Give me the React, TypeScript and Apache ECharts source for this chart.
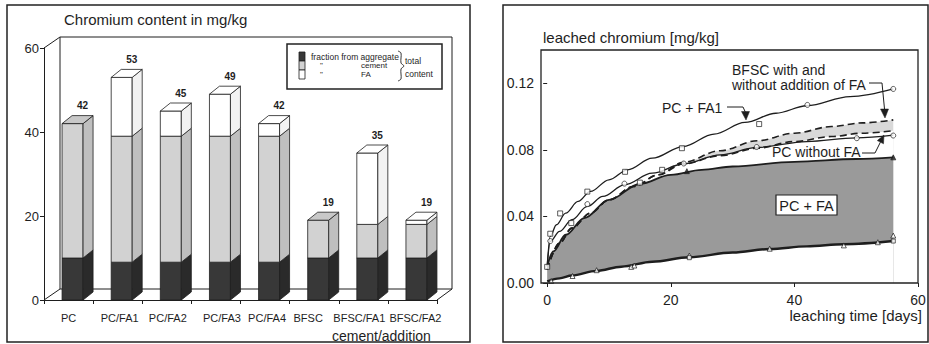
import React, { useEffect, useRef } from 'react';
import * as echarts from 'echarts';

// ---------- Left chart data ----------
const categories = ['PC', 'PC/FA1', 'PC/FA2', 'PC/FA3', 'PC/FA4', 'BFSC', 'BFSC/FA1', 'BFSC/FA2'];
const fromAggregate = [10, 9, 9, 9, 9, 10, 10, 10];
const fromCement = [32, 30, 30, 30, 30, 9, 8, 8];
const fromFA = [0, 14, 6, 10, 3, 0, 17, 1];
const contentTicks = [0, 20, 40, 60];

// ---------- Right chart data ([day, mg/kg]) ----------
const timeTicks = [0, 20, 40, 60];
const leachTicks = [0, 0.04, 0.08, 0.12];

const pcFa1Curve = [[0, 0.010], [0.5, 0.028], [1.5, 0.035], [3, 0.042], [5, 0.049], [7, 0.055], [10, 0.062], [13, 0.068], [17, 0.075], [22, 0.082], [27, 0.0895], [32, 0.0965], [37, 0.102], [42, 0.1065], [49, 0.112], [56, 0.1166]];
const pcWithoutCurve = [[0, 0.010], [0.5, 0.025], [2, 0.031], [4, 0.038], [6.5, 0.046], [9, 0.052], [12.5, 0.059], [17, 0.066], [22, 0.0715], [28, 0.077], [34, 0.0815], [42, 0.085], [50, 0.0872], [56, 0.0888]];
const bfscUpperCurve = [[0, 0.008], [2, 0.024], [4, 0.033], [7, 0.042], [10, 0.050], [14, 0.058], [18, 0.065], [22, 0.0725], [28, 0.0795], [34, 0.0855], [40, 0.090], [46, 0.094], [51, 0.0962], [56, 0.098]];
const bfscLowerCurve = [[0, 0.008], [2, 0.024], [4, 0.033], [7, 0.042], [10, 0.050], [14, 0.058], [18, 0.065], [22, 0.0715], [28, 0.0765], [34, 0.081], [40, 0.085], [46, 0.088], [51, 0.090], [56, 0.0915]];
const pcFaUpperCurve = [[0, 0.010], [1, 0.019], [3, 0.029], [6, 0.039], [10, 0.050], [15, 0.0595], [20, 0.065], [25, 0.068], [30, 0.070], [40, 0.0728], [50, 0.0745], [56, 0.0755]];
const pcFaLowerCurve = [[0, 0.001], [2, 0.0028], [4, 0.0045], [8, 0.0073], [12, 0.0098], [17, 0.0128], [23, 0.0155], [30, 0.0183], [36, 0.0204], [42, 0.022], [48, 0.0233], [56, 0.0252]];

const pcFa1Squares = [[0.5, 0.0296], [2.1, 0.0418], [6.5, 0.0549], [12.6, 0.0668], [21.8, 0.081], [34.3, 0.0955]];
const topCircles = [[42.1, 0.107], [56, 0.1166]];
const pcWithoutCircles = [[0.5, 0.0252], [6.5, 0.0474], [12.5, 0.0597], [22.1, 0.0718], [33.9, 0.0817], [50.1, 0.087], [56, 0.0886]];
const pcFaSquares = [[0, 0.0097], [3.9, 0.036], [15, 0.0603], [18.6, 0.068]];
const pcFaTriangles = [[22.6, 0.0672], [56, 0.0755]];
const lowerTriangles = [[0.65, 0.0012], [4.1, 0.0042], [8, 0.0077], [13.6, 0.0097], [14.1, 0.0105], [23, 0.0165], [36, 0.0206], [48, 0.0226], [53.5, 0.0245], [56, 0.0285]];
const lowerSquares = [[23, 0.0152], [56, 0.0252]];

// ---------- layout / style ----------
const FONT = '"Liberation Sans", Arial, sans-serif';
const INK = '#1e1e1e';
const L = { left: 44, top: 48, width: 393, height: 252 };
const R = { left: 541, top: 50, width: 377, height: 233 };
const D = { dx: 16, dy: 11 };
const FRONT = ['#383838', '#d2d2d2', '#ffffff'];
const SIDE = ['#2a2a2a', '#bfbfbf', '#f2f2f2'];
const TOP = ['#555555', '#c8c8c8', '#ffffff'];
// horizontal nudge (px) of each category label, as placed in the original figure
const LABEL_SHIFT = [0, 2, 1, 6, 2, -6, -4, 3];

function txt(text: string, x: number, y: number, size: number, align = 'left', extra: any = {}) {
  return {
    type: 'text', x, y, z: 50,
    style: {
      text, font: `${extra.weight || 'normal'} ${size}px ${FONT}`, fill: INK,
      textAlign: align, align, textVerticalAlign: 'middle', verticalAlign: 'middle',
      lineHeight: extra.lineHeight,
    },
  };
}
function line(points: number[][], w = 1, extra: any = {}) {
  return { type: 'polyline', z: extra.z ?? 50, shape: { points, smooth: extra.smooth || 0 }, style: { stroke: INK, lineWidth: w, fill: null } };
}
function poly(points: number[][]) {
  return { type: 'polygon', z: 50, shape: { points }, style: { fill: INK, stroke: INK, lineWidth: 0.5 } };
}

export default function App() {
  const ref = useRef<HTMLDivElement>(null);
  useEffect(() => {
    if (!ref.current) return;
    const chart = echarts.init(ref.current, undefined, { renderer: 'svg' });

    const barData = categories.map((c, i) => [i, fromAggregate[i], fromCement[i], fromFA[i]]);

    const renderBar = (params: any, api: any) => {
      const i = api.value(0);
      const segs = [api.value(1), api.value(2), api.value(3)];
      const base = api.coord([i, 0]);
      const fw = 21, dx = 10, dy = 8;
      const x0 = base[0] - 6.5;
      const children: any[] = [];
      let cum = 0;
      let topY = base[1];
      let lastK = 0;
      segs.forEach((v: number, k: number) => {
        if (!(v > 0)) return;
        const yb = api.coord([i, cum])[1];
        cum += v;
        const yt = api.coord([i, cum])[1];
        topY = yt; lastK = k;
        children.push({ type: 'rect', shape: { x: x0, y: yt, width: fw, height: yb - yt }, style: { fill: FRONT[k], stroke: INK, lineWidth: 0.8 } });
        children.push({ type: 'polygon', shape: { points: [[x0 + fw, yb], [x0 + fw + dx, yb - dy], [x0 + fw + dx, yt - dy], [x0 + fw, yt]] }, style: { fill: SIDE[k], stroke: INK, lineWidth: 0.8 } });
      });
      children.push({ type: 'polygon', shape: { points: [[x0, topY], [x0 + dx, topY - dy], [x0 + fw + dx, topY - dy], [x0 + fw, topY]] }, style: { fill: TOP[lastK], stroke: INK, lineWidth: 0.8 } });
      children.push({
        type: 'text', x: x0 + fw / 2 + dx, y: topY - dy - 5,
        style: { text: String(cum), font: `bold 10px ${FONT}`, fill: INK, textAlign: 'center', align: 'center', textVerticalAlign: 'bottom', verticalAlign: 'bottom' },
      });
      return { type: 'group', children };
    };

    const areaSeries = (data: number[][], color: string, z: number) => ({
      type: 'line', xAxisIndex: 1, yAxisIndex: 1, data, smooth: 0.35, smoothMonotone: 'x',
      symbol: 'none', lineStyle: { width: 0, opacity: 0 }, areaStyle: { color, opacity: 1 }, z, silent: true,
    });
    const lineSeries = (data: number[][], width: number, dashed = false) => ({
      type: 'line', xAxisIndex: 1, yAxisIndex: 1, data, smooth: 0.35, smoothMonotone: 'x',
      symbol: 'none', lineStyle: { color: INK, width, type: dashed ? [7, 4] : 'solid' }, z: 10, silent: true,
    });
    const markers = (data: number[][], symbol: string, size = 5, fill = '#fff') => ({
      type: 'scatter', xAxisIndex: 1, yAxisIndex: 1, data, symbol, symbolSize: size,
      itemStyle: { color: fill, borderColor: INK, borderWidth: 0.9 }, z: 12, silent: true,
    });

    const rich: any = {};
    LABEL_SHIFT.forEach((s, i) => {
      rich['l' + i] = {
        fontSize: 11, color: INK, fontFamily: FONT,
        padding: s >= 0 ? [0, 0, 0, 2 * s] : [0, -2 * s, 0, 0],
      };
    });

    const xL = L.left, yT = L.top, xR = L.left + L.width, yB = L.top + L.height;
    const LG = 8; // legend font size

    const graphics: any[] = [
      // panel frames
      { type: 'rect', z: 60, shape: { x: 7, y: 5, width: 463, height: 337 }, style: { fill: 'none', stroke: '#222', lineWidth: 1.5 } },
      { type: 'rect', z: 60, shape: { x: 503, y: 5, width: 425, height: 337 }, style: { fill: 'none', stroke: '#222', lineWidth: 1.5 } },
      // 3D frame of left chart
      line([[xL, yT], [xL + D.dx, yT - D.dy], [xR + D.dx - 1, yT - D.dy], [xR + D.dx - 1, yB - D.dy]], 1, { z: 0 }),
      line([[xL + D.dx, yT - D.dy], [xL + D.dx, yB - D.dy]], 1, { z: 0 }),
      line([[xL, yB], [xL + D.dx, yB - D.dy], [xR + D.dx - 1, yB - D.dy], [xR, yB]], 1, { z: 0 }),
      // left titles
      txt('Chromium content in mg/kg', 64, 19, 15),
      txt('cement/addition', 332, 336, 14),
      // legend box
      { type: 'rect', z: 40, shape: { x: 287, y: 44, width: 155, height: 45 }, style: { fill: '#fff', stroke: '#222', lineWidth: 1.5 } },
      { type: 'rect', z: 45, shape: { x: 299, y: 52, width: 6, height: 9 }, style: { fill: FRONT[0], stroke: INK, lineWidth: 0.8 } },
      { type: 'rect', z: 45, shape: { x: 299, y: 61, width: 6, height: 9 }, style: { fill: FRONT[1], stroke: INK, lineWidth: 0.8 } },
      { type: 'rect', z: 45, shape: { x: 299, y: 70, width: 6, height: 9 }, style: { fill: FRONT[2], stroke: INK, lineWidth: 0.8 } },
      txt('fraction from aggregate', 311, 57, LG + 0.5, 'left', { lineHeight: 8 }),
      txt('"', 320, 65.5, LG, 'left', { lineHeight: 8 }),
      txt('cement', 361, 65.5, LG, 'left', { lineHeight: 8 }),
      txt('"', 320, 74, LG, 'left', { lineHeight: 8 }),
      txt('FA', 361, 74, LG, 'left', { lineHeight: 8 }),
      line([[398, 51], [401, 53], [401, 63], [404, 66], [401, 69], [401, 79], [398, 81]], 0.9, { smooth: 0.3 }),
      txt('total', 405, 61, LG + 0.5, 'left', { lineHeight: 9 }),
      txt('content', 405, 74, LG + 0.5, 'left', { lineHeight: 9 }),
      // right chart frame
      { type: 'rect', z: 60, shape: { x: R.left, y: R.top, width: R.width, height: R.height }, style: { fill: 'none', stroke: '#222', lineWidth: 1.3 } },
      txt('leached chromium [mg/kg]', 543, 37, 15),
      txt('leaching time [days]', 922, 315, 15, 'right'),
      // annotations
      txt('BFSC with and', 732, 70, 14),
      txt('without addition of FA', 732, 85, 14),
      line([[869, 83], [882, 83], [884.6, 110]], 1),
      poly([[880.5, 109], [888.5, 109], [885, 118]]),
      txt('PC + FA1', 662, 108, 14),
      line([[727, 107], [743, 107], [745.3, 112]], 1),
      poly([[741.5, 111.5], [749.5, 111.5], [746, 120]]),
      txt('PC without FA', 772, 151.5, 14),
      line([[862, 153], [875, 153], [880.4, 142.2]], 1),
      poly([[884, 135], [883.5, 143.8], [877.3, 140.6]]),
      { type: 'rect', z: 40, shape: { x: 776, y: 195, width: 61, height: 20 }, style: { fill: '#fff', stroke: '#222', lineWidth: 1.2 } },
      txt('PC + FA', 806.5, 205.5, 14.5, 'center'),
    ];

    const option: any = {
      animation: false,
      backgroundColor: '#fff',
      textStyle: { fontFamily: FONT },
      grid: [
        { left: L.left, top: L.top, width: L.width, height: L.height },
        { left: R.left, top: R.top, width: R.width, height: R.height },
      ],
      xAxis: [
        {
          type: 'category', gridIndex: 0, data: categories, boundaryGap: true,
          axisLine: { lineStyle: { color: INK, width: 1 } },
          axisTick: { show: true, interval: 0, length: 4, lineStyle: { color: INK } },
          axisLabel: {
            interval: 0, fontSize: 11, color: INK, margin: 12, fontFamily: FONT, rich,
            formatter: (v: string, i: number) => `{l${i}|${v}}`,
          },
        },
        {
          type: 'value', gridIndex: 1, min: -1, max: 60,
          axisLine: { show: false }, splitLine: { show: false },
          axisTick: { show: true, customValues: timeTicks, length: 4, lineStyle: { color: INK } },
          axisLabel: { customValues: timeTicks, fontSize: 14, color: INK, margin: 10, fontFamily: FONT },
        },
      ],
      yAxis: [
        {
          type: 'value', gridIndex: 0, min: 0, max: 60, interval: 20,
          axisLine: { show: true, lineStyle: { color: INK, width: 1 } },
          axisTick: { show: true, length: 4, lineStyle: { color: INK } },
          axisLabel: { fontSize: 13, color: INK, margin: 5, fontFamily: FONT, customValues: contentTicks },
          splitLine: { show: false },
        },
        {
          type: 'value', gridIndex: 1, min: 0, max: 0.14,
          axisLine: { show: false }, splitLine: { show: false },
          axisTick: { show: true, customValues: leachTicks, length: 4, lineStyle: { color: INK } },
          axisLabel: { customValues: leachTicks, fontSize: 14, color: INK, margin: 7, fontFamily: FONT, formatter: (v: number) => v.toFixed(2) },
        },
      ],
      series: [
        {
          type: 'custom', xAxisIndex: 0, yAxisIndex: 0, data: barData, renderItem: renderBar,
          encode: { x: 0, y: 1 }, z: 5, silent: true,
        },
        areaSeries(bfscUpperCurve, '#d9d9d9', 1),
        areaSeries(bfscLowerCurve, '#ffffff', 2),
        areaSeries(pcFaUpperCurve, '#9a9a9a', 3),
        areaSeries(pcFaLowerCurve, '#ffffff', 4),
        lineSeries(pcFa1Curve, 1.3),
        lineSeries(pcWithoutCurve, 1.3),
        lineSeries(bfscUpperCurve, 1.6, true),
        lineSeries(bfscLowerCurve, 1.6, true),
        lineSeries(pcFaUpperCurve, 1.8),
        lineSeries(pcFaLowerCurve, 2.4),
        markers(pcFa1Squares, 'rect', 5),
        markers(topCircles, 'circle', 5),
        markers(pcWithoutCircles, 'circle', 5),
        markers(pcFaSquares, 'rect', 5),
        markers(pcFaTriangles, 'triangle', 5, INK),
        markers(lowerTriangles, 'triangle', 5),
        markers(lowerSquares, 'rect', 4),
      ],
      graphic: { elements: graphics },
    };
    chart.setOption(option);
    return () => chart.dispose();
  }, []);

  return (
    <div
      ref={ref}
      style={{ position: 'absolute', left: 0, top: 0, width: 929, height: 344, background: '#fff' }}
    />
  );
}
